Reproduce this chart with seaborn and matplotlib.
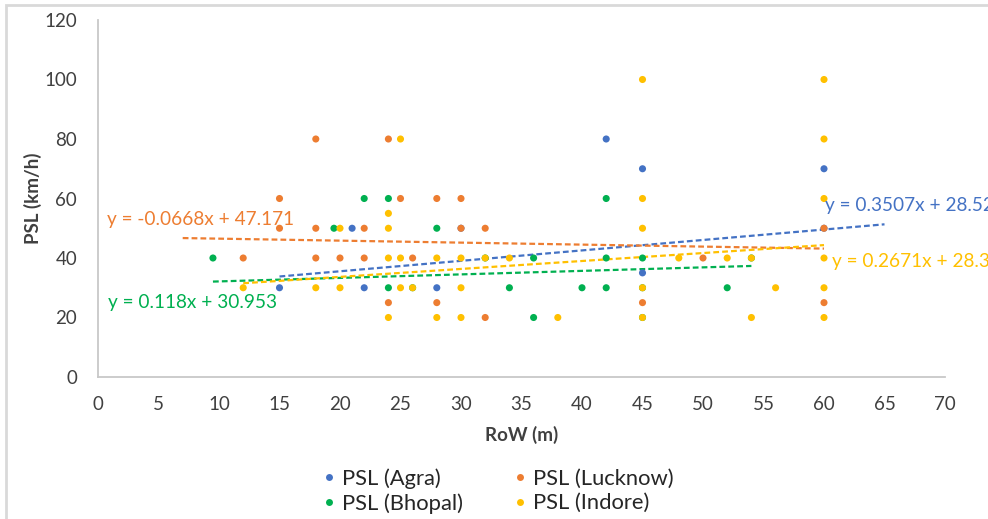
import numpy as np
import pandas as pd
import matplotlib
matplotlib.use("Agg")
import matplotlib.pyplot as plt
import matplotlib.patches as mpatches
from matplotlib.lines import Line2D
import seaborn as sns

# ---- data ----
series_names = ["PSL (Agra)", "PSL (Lucknow)", "PSL (Bhopal)", "PSL (Indore)"]
colors = ["#4472C4", "#ED7D31", "#00B050", "#FFC000"]

agra_x = [15, 21, 22, 28, 30, 42, 45, 45, 60, 60]
agra_y = [30, 50, 30, 30, 50, 80, 70, 35, 70, 50]

lucknow_x = [12, 15, 15, 18, 18, 18, 20, 22, 22, 24, 24, 25, 26, 28, 28, 30, 30, 32, 32, 45, 50, 60, 60]
lucknow_y = [40, 60, 50, 80, 50, 40, 40, 50, 40, 80, 25, 60, 40, 60, 25, 60, 50, 50, 20, 25, 40, 50, 25]

bhopal_x = [9.5, 19.5, 22, 24, 24, 26, 28, 32, 34, 36, 36, 40, 42, 42, 42, 45, 45, 45, 52, 54]
bhopal_y = [40, 50, 60, 60, 30, 30, 50, 40, 30, 40, 20, 30, 60, 40, 30, 40, 30, 20, 30, 40]

indore_x = [12, 18, 20, 20, 24, 24, 24, 24, 25, 25, 25, 26, 28, 28, 30, 30, 30, 32, 34, 38,
            45, 45, 45, 45, 45, 48, 52, 54, 54, 56, 60, 60, 60, 60, 60, 60]
indore_y = [30, 30, 50, 30, 55, 50, 40, 20, 80, 40, 30, 30, 40, 20, 40, 30, 20, 40, 40, 20,
            100, 60, 50, 30, 20, 40, 40, 40, 20, 30, 100, 80, 60, 40, 30, 20]

# linear trendlines (slope, intercept) and their drawn x-range
trend_slope = [0.3507, -0.0668, 0.118, 0.2671]
trend_intercept = [28.525, 47.171, 30.953, 28.31]
trend_xmin = [15, 7, 9.5, 12]
trend_xmax = [65, 60, 54, 60]
trend_labels = ["y = 0.3507x + 28.525", "y = -0.0668x + 47.171",
                "y = 0.118x + 30.953", "y = 0.2671x + 28.31"]
label_pos = [(60.1, 57.8), (0.74, 52.8), (0.83, 25.2), (60.7, 38.7)]

xs = [agra_x, lucknow_x, bhopal_x, indore_x]
ys = [agra_y, lucknow_y, bhopal_y, indore_y]

frames = []
for name, x, y in zip(series_names, xs, ys):
    frames.append(pd.DataFrame({"RoW": x, "PSL": y, "Series": name}))
df = pd.concat(frames, ignore_index=True)

# ---- figure ----
sns.set_style("white")
plt.rcParams["font.family"] = ["Lato", "DejaVu Sans"]

fig = plt.figure(figsize=(9.88, 5.19), dpi=100)
ax = fig.add_axes([98 / 988, 1 - 377 / 519, (945 - 98) / 988, (377 - 20) / 519])

sns.scatterplot(data=df, x="RoW", y="PSL", hue="Series", hue_order=series_names,
                palette=colors, s=26, linewidth=0, ax=ax, legend=False, zorder=3)

for i in range(4):
    tx = np.array([trend_xmin[i], trend_xmax[i]])
    ty = trend_slope[i] * tx + trend_intercept[i]
    ax.plot(tx, ty, color=colors[i], lw=1.6, ls=(0, (2.6, 1.4)), zorder=2)
    ax.text(label_pos[i][0], label_pos[i][1], trend_labels[i], color=colors[i],
            fontsize=13.7, ha="left", va="center", clip_on=False, zorder=4)

ax.set_xlim(0, 70)
ax.set_ylim(0, 120)
ax.set_xticks(np.arange(0, 71, 5))
ax.set_yticks(np.arange(0, 121, 20))
ax.tick_params(axis="y", labelsize=13.5, labelcolor="#404040", length=0, pad=15)
ax.tick_params(axis="x", labelsize=13.5, labelcolor="#404040", length=0, pad=14)

for side in ["top", "right"]:
    ax.spines[side].set_visible(False)
for side in ["left", "bottom"]:
    ax.spines[side].set_color("#C8C8C8")
    ax.spines[side].set_linewidth(1.3)

ax.set_xlabel("RoW (m)", fontsize=13.5, fontweight="bold", color="#404040", labelpad=9)
ax.set_ylabel("PSL (km/h)", fontsize=13.5, fontweight="bold", color="#404040", labelpad=2)

# legend: column 1 Agra/Bhopal, column 2 Lucknow/Indore
order = [0, 2, 1, 3]
handles = [Line2D([], [], ls="none", marker="o", markersize=5, color=colors[i],
                  markeredgewidth=0) for i in order]
labels = [series_names[i] for i in order]
fig.legend(handles, labels, loc="center", bbox_to_anchor=(498 / 988, 1 - 491 / 519),
           ncol=2, frameon=False, fontsize=15.8, handletextpad=0.29, columnspacing=2.3,
           labelspacing=0.2, handlelength=0.6, labelcolor="#262626")

# chart area border
border = mpatches.Rectangle((6 / 988, -0.5), 2.0, 0.5 + (1 - 5 / 519), transform=fig.transFigure,
                            fill=False, edgecolor="#D9D9D9", linewidth=2.0, zorder=0)
fig.patches.append(border)

fig.savefig("out.png", dpi=100)
